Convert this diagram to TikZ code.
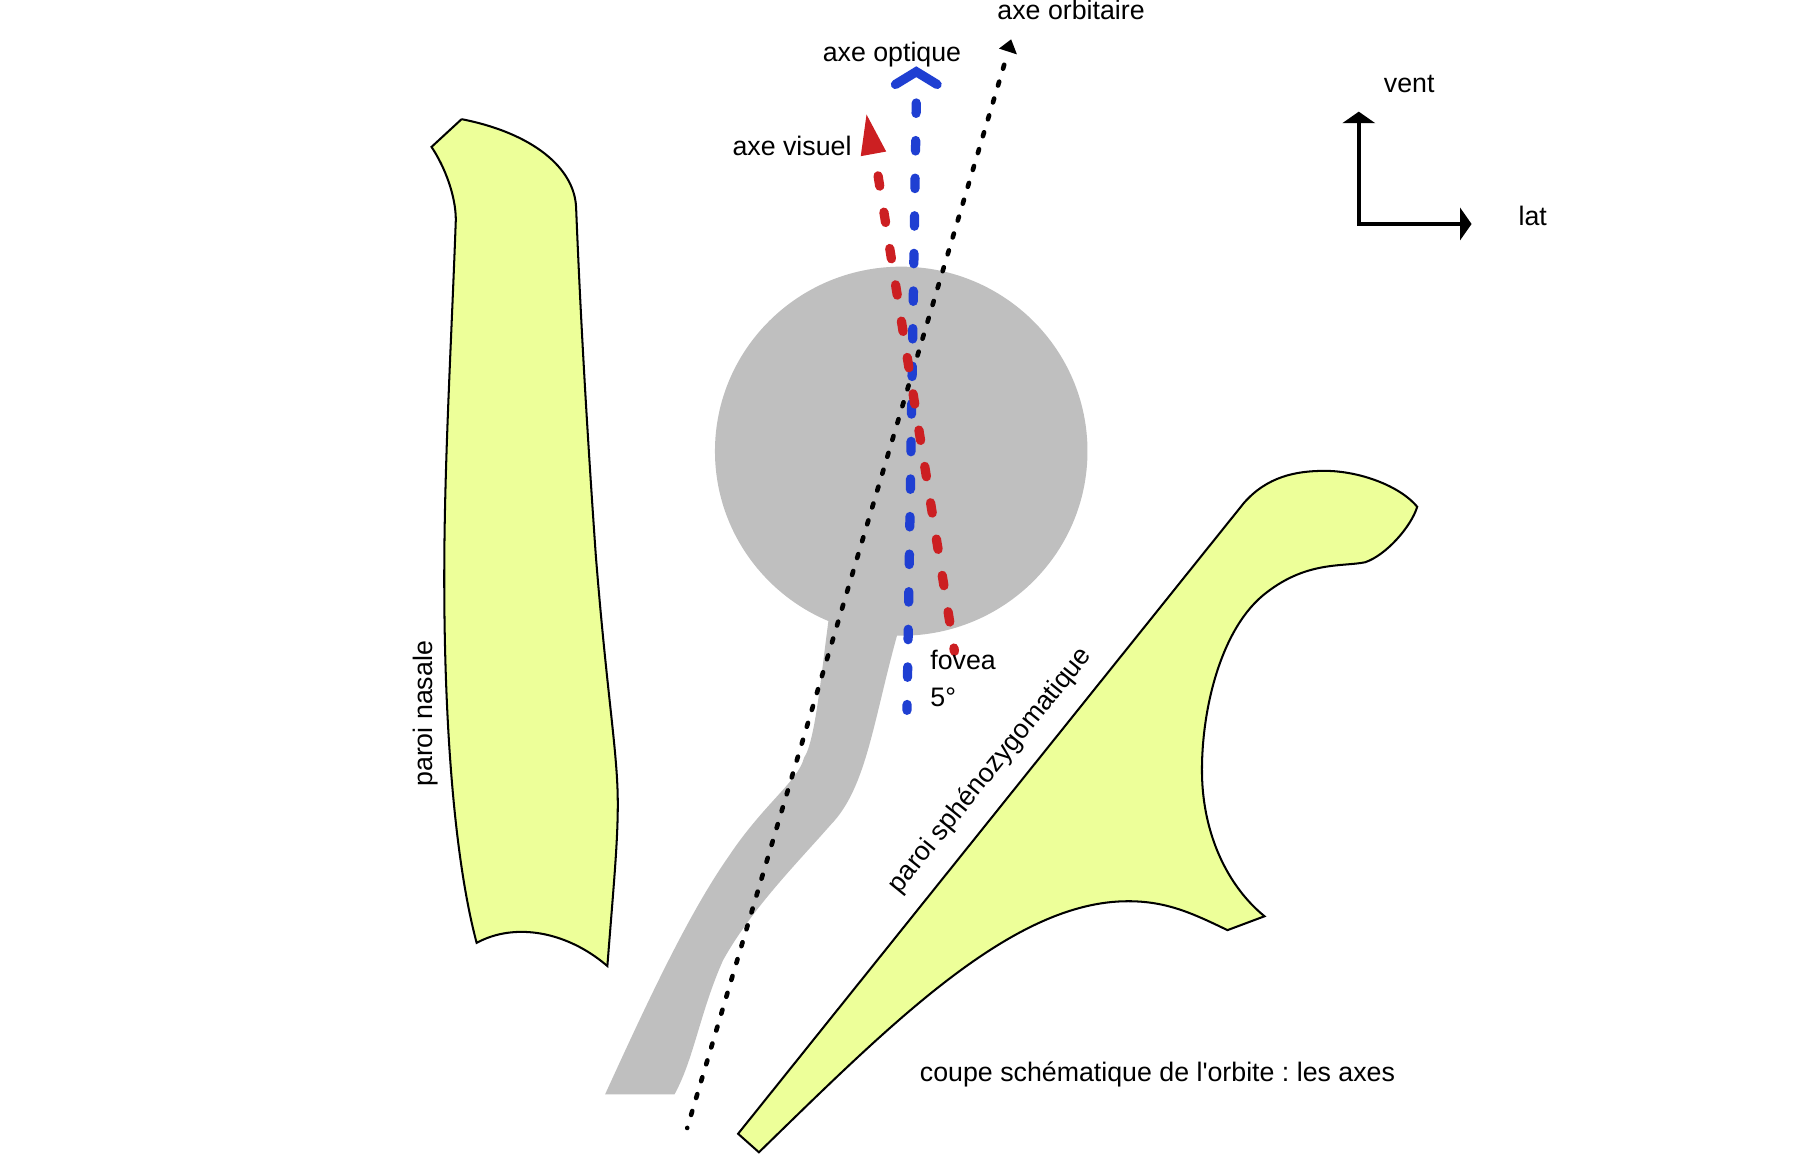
\documentclass[tikz,border=0pt]{standalone}
\usepackage{fontspec}
\newfontfamily\labelfont{Liberation Sans}
\usetikzlibrary{arrows.meta}
\tikzset{
	wall/.style={draw=black,line width=0.5pt,fill=wallyellow},
	eyegray/.style={fill=eyecolor,draw=none},
	label/.style={inner sep=0pt,font=\labelfont\frenchspacing\fontsize{6.58}{8}\selectfont},
	opticline/.style={line width=0.08cm,line cap=round,color=opticblue,dash pattern=on 0.09cm off 0.235cm},
	visualline/.style={line width=0.08cm,line cap=round,color=visualred,dash pattern=on 0.09cm off 0.228cm},
	orbitline/.style={line width=0.04cm,line cap=round,dash pattern=on 0.035cm off 0.1172cm},
	frameline/.style={line width=0.035cm,{Triangle[length=0.1cm,width=0.28cm]}-{Triangle[length=0.1cm,width=0.28cm]}}
}
\definecolor{wallyellow}{HTML}{EDFF99}
\definecolor{eyecolor}{HTML}{BFBFBF}
\definecolor{opticblue}{HTML}{1F3FD2}
\definecolor{visualred}{HTML}{CC1F22}
\begin{document}
\begin{tikzpicture}[y=-1cm]
	\useasboundingbox (0,0) rectangle (15.68,10.105);
	\draw[wall] (3.99,1.03) -- (3.73,1.27) .. controls (3.85,1.45) and (3.94,1.7) .. (3.94,1.9) .. controls (3.9,3) and (3.84,4) .. (3.84,5) .. controls (3.84,6.2) and (3.92,7.4) .. (4.12,8.15) .. controls (4.45,7.97) and (4.9,8.05) .. (5.25,8.35) .. controls (5.3,7.7) and (5.34,7.3) .. (5.34,6.95) .. controls (5.34,6.5) and (5.25,6.05) .. (5.15,4.8) .. controls (5.08,3.8) and (5.02,2.8) .. (4.98,1.8) .. controls (4.97,1.45) and (4.6,1.15) .. (3.99,1.03);
	\draw[wall] (6.38,9.8) -- (10.75,4.35) .. controls (10.95,4.12) and (11.2,4.07) .. (11.45,4.07) .. controls (11.75,4.07) and (12.1,4.2) .. (12.25,4.38) .. controls (12.2,4.55) and (11.98,4.8) .. (11.8,4.86) .. controls (11.6,4.9) and (11.3,4.85) .. (10.95,5.12) .. controls (10.55,5.42) and (10.38,6.15) .. (10.39,6.7) .. controls (10.4,7.2) and (10.6,7.65) .. (10.93,7.92) -- (10.61,8.04) .. controls (10.3,7.89) and (10.08,7.79) .. (9.75,7.79) .. controls (8.75,7.79) and (7.7,8.85) .. (6.56,9.96) -- cycle;
	\fill[eyegray] (7.79,3.9) ellipse (1.61 and 1.595);
	\fill[eyegray] (7.17,5.3) .. controls (7.1,5.8) and (7.05,6.4) .. (6.95,6.55) .. controls (6.9,6.75) and (6.6,6.95) .. (6.3,7.4) .. controls (5.95,7.9) and (5.6,8.65) .. (5.23,9.46) -- (5.83,9.46) .. controls (6,9.15) and (6.05,8.75) .. (6.25,8.3) .. controls (6.5,7.85) and (6.9,7.45) .. (7.18,7.13) .. controls (7.5,6.8) and (7.55,6.2) .. (7.78,5.4) -- cycle;
	\coordinate (opticend) at (7.84,6.14);
	\coordinate (optictop) at (7.92,0.89);
	\coordinate (visualend) at (8.25,5.63);
	\coordinate (visualtop) at (7.59,1.52);
	\coordinate (orbitend) at (5.94,9.75);
	\coordinate (orbittop) at (8.68,0.56);
	\coordinate (framecorner) at (11.745,1.936);
	\coordinate (frametop) at (11.745,0.965);
	\coordinate (frameright) at (12.72,1.936);
	\draw[orbitline] (orbittop) -- (orbitend);
	\fill (8.74,0.34) -- (8.635,0.42) -- (8.79,0.47) -- cycle;
	\draw[opticline] (optictop) -- (opticend);
	\draw[line width=0.08cm,line cap=round,opticblue] (7.74,0.73) -- (7.92,0.62) -- (8.1,0.73);
	\draw[visualline] (visualtop) -- (visualend);
	\fill[visualred] (7.49,0.99) -- (7.44,1.35) -- (7.66,1.31) -- cycle;
	\draw[frameline] (frametop) -- (framecorner) -- (frameright);
	\node[label,anchor=base west] (orbitlabel) at (8.615,0.17) {axe orbitaire};
	\node[label,anchor=base west] (opticlabel) at (7.105,0.53) {axe optique};
	\node[label,anchor=base west] (visuallabel) at (6.325,1.345) {axe visuel};
	\node[label,anchor=base west] (ventlabel) at (11.955,0.797) {vent};
	\node[label,anchor=base west] (latlabel) at (13.12,1.95) {lat};
	\node[label,anchor=base west] (fovealabel) at (8.035,5.79) {fovea};
	\node[label,anchor=base west] (anglelabel) at (8.035,6.11) {5°};
	\node[label,anchor=base west] (titlelabel) at (7.945,9.35) {coupe schématique de l'orbite : les axes};
	\node[label,rotate=90] (nasallabel) at (3.68,6.17) {paroi nasale};
	\node[label,rotate=51] (sphenolabel) at (8.56,6.66) {paroi sphénozygomatique};
\end{tikzpicture}
\end{document}
